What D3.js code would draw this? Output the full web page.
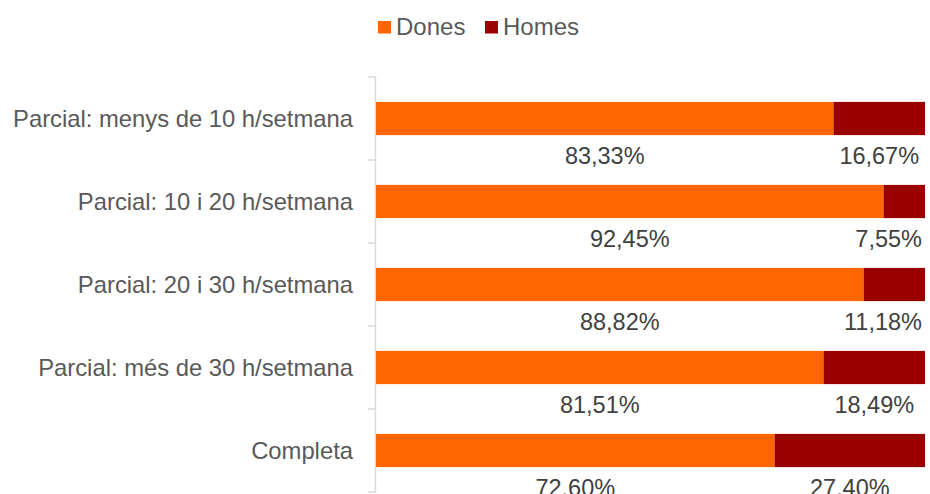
<!DOCTYPE html>
<html>
<head>
<meta charset="utf-8">
<script src="https://cdn.jsdelivr.net/npm/d3@7"></script>
<style>
  html, body { margin: 0; padding: 0; background: #fff; }
  svg { display: block; font-family: "Liberation Sans", Arial, sans-serif; }
</style>
</head>
<body>
<svg id="chart" width="930" height="494"></svg>
<script>
// Jornada (tipus de jornada) and share by sex, in percent
const categories = [
  "Parcial: menys de 10 h/setmana",
  "Parcial: 10 i 20 h/setmana",
  "Parcial: 20 i 30 h/setmana",
  "Parcial: més de 30 h/setmana",
  "Completa"
];
const dones = [83.33, 92.45, 88.82, 81.51, 72.60];
const homes = [16.67, 7.55, 11.18, 18.49, 27.40];
const seriesNames = ["Dones", "Homes"];
const seriesColors = ["#FF6600", "#990000"];

const svg = d3.select("#chart");
const margin = { top: 77, right: 5, bottom: 2, left: 375 };
const width = 930, height = 494;

const rows = categories.map((c, i) => ({ cat: c, Dones: dones[i], Homes: homes[i] }));
const stack = d3.stack().keys(seriesNames)(rows);

const x = d3.scaleLinear().domain([0, 100]).range([margin.left + 1, width - margin.right]);
const y = d3.scaleBand().domain(categories)
  .range([margin.top, height - margin.bottom]).paddingInner(0.6).paddingOuter(0.3);
const yOuter = d3.scaleBand().domain(categories).range([margin.top, height - margin.bottom]);

// Category axis: vertical line with ticks at band boundaries
const axisColor = "#d9d9d9";
svg.append("line")
  .attr("x1", margin.left + 0.5).attr("x2", margin.left + 0.5)
  .attr("y1", margin.top).attr("y2", height - margin.bottom)
  .attr("stroke", axisColor).attr("stroke-width", 1.5);
const bounds = categories.map(c => yOuter(c)).concat([height - margin.bottom]);
svg.selectAll("line.tick").data(bounds).enter().append("line")
  .attr("class", "tick")
  .attr("x1", margin.left - 7).attr("x2", margin.left + 0.5)
  .attr("y1", d => d).attr("y2", d => d)
  .attr("stroke", axisColor).attr("stroke-width", 1.5);

svg.selectAll("text.cat").data(categories).enter().append("text")
  .attr("class", "cat")
  .attr("x", margin.left - 22)
  .attr("y", d => y(d) + y.bandwidth() / 2)
  .attr("dy", "0.35em")
  .attr("text-anchor", "end")
  .attr("font-size", 23.8)
  .attr("fill", "#595959")
  .text(d => d);

// Stacked bars
const groups = svg.selectAll("g.series").data(stack).enter().append("g")
  .attr("fill", (d, i) => seriesColors[i]);
groups.selectAll("rect").data(d => d).enter().append("rect")
  .attr("x", d => x(d[0]))
  .attr("width", d => x(d[1]) - x(d[0]))
  .attr("y", d => y(d.data.cat))
  .attr("height", y.bandwidth());

// Value labels below each segment, kept inside the plot's right edge
const fmt = v => v.toFixed(2).replace(".", ",") + "%";
const rightLimit = width - 8;
stack.forEach(s => {
  svg.selectAll(null).data(s).enter().append("text")
    .attr("y", d => y(d.data.cat) + y.bandwidth() + 21)
    .attr("dy", "0.35em")
    .attr("text-anchor", "middle")
    .attr("font-size", 23.5)
    .attr("fill", "#404040")
    .text(d => fmt(d[1] - d[0]))
    .attr("x", function (d) {
      const mid = (x(d[0]) + x(d[1])) / 2;
      const half = this.getComputedTextLength() / 2;
      return Math.min(mid, rightLimit - half);
    });
});

// Legend
const legend = svg.append("g").attr("transform", "translate(378,21)");
const lx = [0, 107];
seriesNames.forEach((n, i) => {
  const g = legend.append("g").attr("transform", `translate(${lx[i]},0)`);
  g.append("rect").attr("width", 13).attr("height", 12.5).attr("fill", seriesColors[i]);
  g.append("text").attr("x", 18).attr("y", 14)
    .attr("font-size", 24).attr("fill", "#595959").text(n);
});
</script>
</body>
</html>
